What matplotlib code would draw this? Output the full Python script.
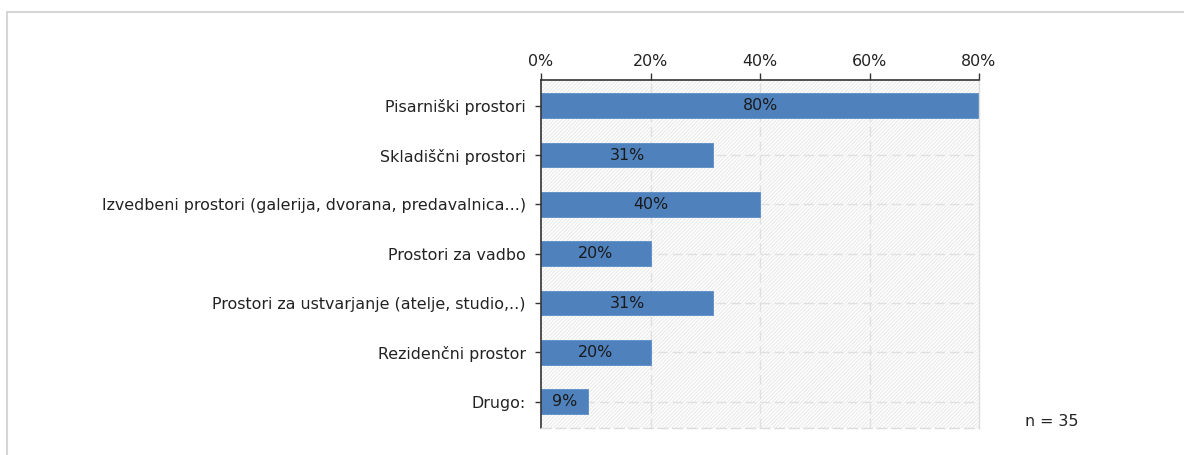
import matplotlib
matplotlib.use("Agg")
import matplotlib.pyplot as plt
from matplotlib.patches import Rectangle

categories = ["Pisarniški prostori", "Skladiščni prostori",
              "Izvedbeni prostori (galerija, dvorana, predavalnica...)",
              "Prostori za vadbo", "Prostori za ustvarjanje (atelje, studio,..)",
              "Rezidenčni prostor", "Drugo:"]
values = [80.0, 31.4, 40.0, 20.0, 31.4, 20.0, 8.6]
bar_labels = ["80%", "31%", "40%", "20%", "31%", "20%", "9%"]
xticks = [0, 20, 40, 60, 80]
xtick_labels = ["0%", "20%", "40%", "60%", "80%"]
n_text = "n = 35"

plt.rcParams['font.family'] = ['DejaVu Sans']
plt.rcParams['hatch.linewidth'] = 0.9

FS = 11.4
W, H = 1184, 455
fig = plt.figure(figsize=(W/100, H/100), dpi=100)
fig.patch.set_facecolor('white')

# outer frame
fig.patches.append(Rectangle((7/W, -0.1), 1.2, 1 - 12/H + 0.1, transform=fig.transFigure,
                             facecolor='none', edgecolor='#d6d6d6', lw=1.5))

ax = fig.add_axes([541/W, 1 - 428/H, (979-541)/W, (428-80)/H])
ax.set_xlim(0, 80)
ax.set_ylim(6.53, -0.52)
ax.set_facecolor('white')

ax.add_patch(Rectangle((0, 0), 1, 1, transform=ax.transAxes, facecolor='white',
                       edgecolor='#ececec', hatch='/'*9, lw=0, zorder=0))

ypos = list(range(len(categories)))
dash = (0, (7, 3.5))
for x in [20, 40, 60]:
    ax.axvline(x, color='#e0e0e0', lw=1.0, ls=dash, zorder=1)
for y in ypos:
    ax.axhline(y, color='#e0e0e0', lw=1.0, ls=dash, zorder=1)

ax.barh(ypos, values, height=0.5, color='#4F81BD', edgecolor='#5b8cc6', lw=0.6, zorder=2)
for y, v, lab in zip(ypos, values, bar_labels):
    ax.text(v/2, y, lab, ha='center', va='center', fontsize=FS, color='#1a1a1a', zorder=3)

ax.xaxis.tick_top()
ax.set_xticks(xticks)
ax.set_xticklabels(xtick_labels, fontsize=FS, color='#222222')
ax.set_yticks(ypos)
ax.set_yticklabels(categories, fontsize=FS, color='#222222')
ax.tick_params(axis='x', length=5, width=1, color='#333333', pad=3)
ax.tick_params(axis='y', length=4, width=1, color='#333333', pad=7)

ax.spines['top'].set_color('#333333')
ax.spines['top'].set_linewidth(1.2)
ax.spines['left'].set_color('#333333')
ax.spines['left'].set_linewidth(1.2)
ax.spines['right'].set_color('#dcdcdc')
ax.spines['right'].set_linewidth(1)
ax.spines['bottom'].set_color('#dcdcdc')
ax.spines['bottom'].set_linestyle(dash)
ax.spines['bottom'].set_linewidth(1)

fig.text(1052/W, 1 - 421/H, n_text, ha='center', va='center', fontsize=FS, color='#222222')

fig.savefig("out.png", dpi=100)
